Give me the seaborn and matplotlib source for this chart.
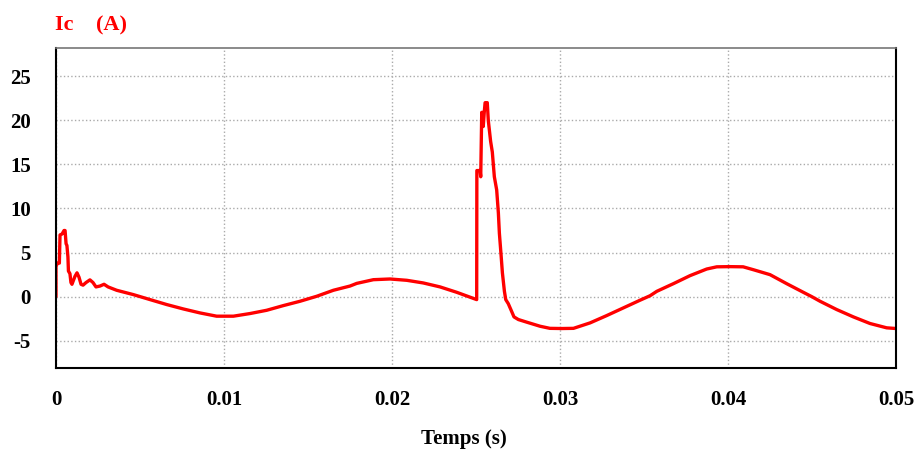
import pandas as pd
import seaborn as sns
import matplotlib.pyplot as plt

# Courant Ic (A) en fonction du temps (s)
temps = [
    0.0, 0.0, 0.00008, 0.0002, 0.00024, 0.00036, 0.00048, 0.00054, 0.0006,
    0.00065, 0.00071, 0.00074, 0.00083, 0.00089, 0.00095, 0.00113, 0.00125,
    0.00137, 0.00149, 0.00161, 0.00179, 0.00202, 0.0022, 0.00238, 0.00262,
    0.00286, 0.0031, 0.00361, 0.0046, 0.0056, 0.00659, 0.00758, 0.00857,
    0.00956, 0.01056, 0.01155, 0.01254, 0.01353, 0.01452, 0.01552, 0.01651,
    0.0175, 0.0179, 0.01889, 0.01988, 0.02088, 0.02186, 0.02286, 0.02385,
    0.02504,
    # pic de courant
    0.02505, 0.02524, 0.02528, 0.02534, 0.02538, 0.02543, 0.02549, 0.02554,
    0.02567, 0.02573, 0.02587, 0.02597, 0.02609, 0.02623, 0.02633, 0.02639,
    0.02649, 0.02657, 0.02669, 0.02677, 0.02692, 0.02708, 0.02726, 0.02752,
    0.02802, 0.02881, 0.0294, 0.0301, 0.0308, 0.03179, 0.03278, 0.03377,
    0.03476, 0.03536, 0.03576, 0.03675, 0.03774, 0.03873, 0.03933, 0.04012,
    0.0409, 0.04151, 0.0425, 0.04349, 0.04448, 0.04498, 0.04548, 0.04647,
    0.04746, 0.04845, 0.04944, 0.05,
]
courant = [
    0.0, 3.4, 3.8, 3.8, 7.0, 7.1, 7.5, 7.5, 6.0,
    5.8, 4.5, 2.9, 2.6, 1.6, 1.4, 2.3, 2.7,
    2.2, 1.4, 1.3, 1.6, 1.9, 1.6, 1.1, 1.2,
    1.4, 1.1, 0.72, 0.23, -0.34, -0.9, -1.4, -1.85,
    -2.22, -2.22, -1.92, -1.55, -1.02, -0.53, 0.04, 0.72,
    1.2, 1.5, 1.92, 2.0, 1.85, 1.55, 1.1, 0.49,
    -0.34,
    14.3, 14.3, 13.6, 20.9, 20.9, 19.3, 20.9, 22.0,
    22.0, 20.0, 17.6, 16.4, 13.6, 12.1, 9.5, 7.2,
    4.75, 2.7, 0.6, -0.34, -0.8, -1.5, -2.3, -2.6,
    -2.9, -3.36, -3.6, -3.62, -3.6, -2.98, -2.15, -1.28,
    -0.41, 0.1, 0.6, 1.47, 2.38, 3.13, 3.38, 3.4,
    3.38, 3.05, 2.49, 1.47, 0.49, 0.0, -0.53, -1.47,
    -2.3, -3.05, -3.54, -3.62,
]

xticks = [0, 0.01, 0.02, 0.03, 0.04, 0.05]
xtick_labels = ['0', '0.01', '0.02', '0.03', '0.04', '0.05']
yticks = [-5, 0, 5, 10, 15, 20, 25]
ytick_labels = ['-5', '0', '5', '10', '15', '20', '25']

df = pd.DataFrame({'Temps': temps, 'Ic': courant})

sns.set_style('white')
plt.rcParams['font.family'] = ['Liberation Serif', 'DejaVu Serif']

fig = plt.figure(figsize=(9.21, 4.51), dpi=100)
ax = fig.add_axes([0.0608, 0.184, 0.9121, 0.7095])

sns.lineplot(data=df, x='Temps', y='Ic', ax=ax, color='#ff0000', linewidth=2.4,
             estimator=None, sort=False)

ax.set_xlim(0, 0.05)
ax.set_ylim(-8.1, 28.2)
ax.set_xticks(xticks)
ax.set_xticklabels(xtick_labels)
ax.set_yticks(yticks)
ax.set_yticklabels(ytick_labels)

# Grille en pointillés
ax.grid(True, color='#aaaaaa', linestyle=':', linewidth=1.0)

for lbl in ax.get_xticklabels() + ax.get_yticklabels():
    lbl.set_fontweight('bold')
    lbl.set_fontsize(15)
    lbl.set_color('black')
ax.tick_params(axis='x', length=0, pad=16)
ax.tick_params(axis='y', length=0, pad=18)

for side in ['left', 'bottom', 'right']:
    ax.spines[side].set_color('black')
    ax.spines[side].set_linewidth(1.5)
ax.spines['top'].set_color('#777777')
ax.spines['top'].set_linewidth(1.2)

ax.set_ylabel('')
ax.set_xlabel('Temps (s)', fontsize=15, fontweight='bold', color='black')
ax.xaxis.set_label_coords(0.486, -0.19)

fig.text(0.0597, 0.944, 'Ic    (A)', color='#ff0000', fontsize=16,
         fontweight='bold', va='center', ha='left')

fig.savefig('out.png', dpi=100)
